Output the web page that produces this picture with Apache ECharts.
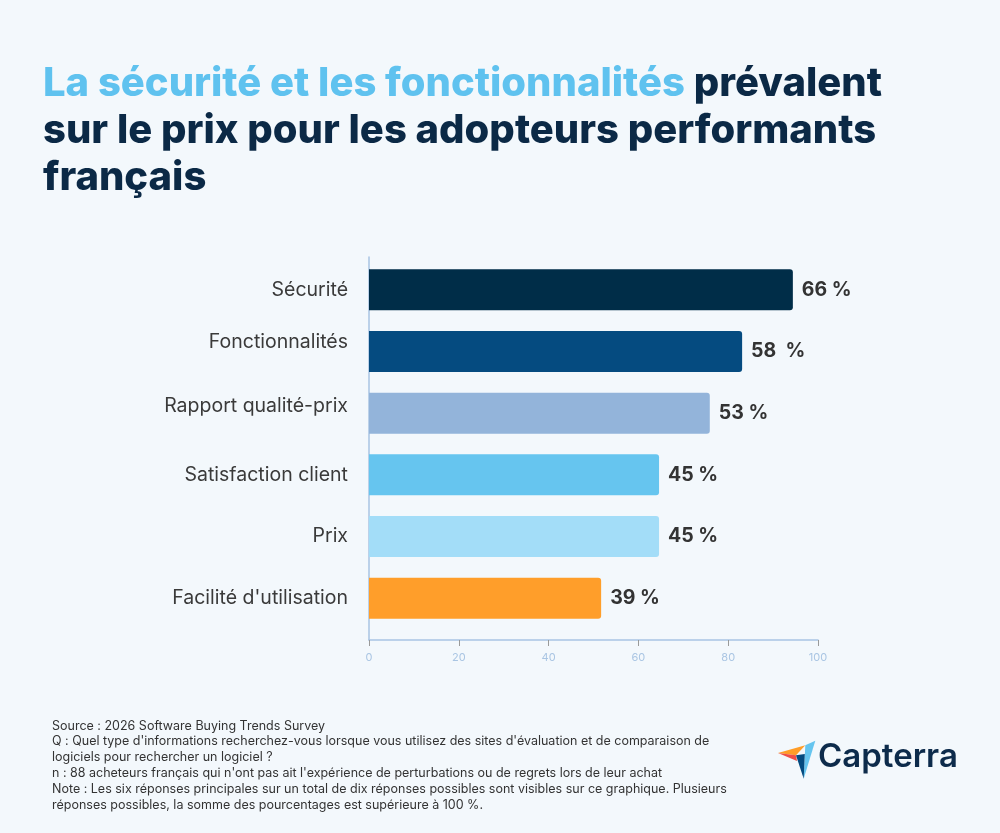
<!DOCTYPE html>
<html>
<head>
<meta charset="utf-8">
<style>
  html, body { margin: 0; padding: 0; background: #f3f8fc; }
  #chart { width: 1000px; height: 833px; }
</style>
</head>
<body>
<div id="chart"></div>
<script src="https://cdn.jsdelivr.net/npm/echarts@6/dist/echarts.min.js"></script>
<script>
  // categories, top to bottom
  var categories = ['Sécurité', 'Fonctionnalités', 'Rapport qualité-prix', 'Satisfaction client', 'Prix', 'Facilité d\'utilisation'];
  // bar lengths as read against the 0-100 axis
  var barValues = [94.4, 83.1, 75.9, 64.6, 64.6, 51.7];
  // printed labels
  var valueLabels = ['66 %', '58  %', '53 %', '45 %', '45 %', '39 %'];
  var barColors = ['#002d48', '#054b80', '#93b4da', '#66c5ef', '#a3ddf8', '#ff9e2a'];
  var xTicks = [0, 20, 40, 60, 80, 100];
  // small vertical nudges of the category labels, as in the source image
  var labelLift = ['mid', 'up9', 'up7', 'mid', 'mid', 'mid'];

  var chart = echarts.init(document.getElementById('chart'));

  var option = {
    backgroundColor: '#f3f8fc',
    textStyle: { fontFamily: 'Inter' },
    grid: [
      // bars
      { left: 369, right: 182, top: 259, bottom: 204 },
      // axis frame
      { left: 369, right: 182, top: 257, bottom: 193 }
    ],
    xAxis: [
      {
        gridIndex: 0,
        type: 'value',
        min: xTicks[0],
        max: xTicks[xTicks.length - 1],
        show: false
      },
      {
        gridIndex: 1,
        type: 'value',
        min: xTicks[0],
        max: xTicks[xTicks.length - 1],
        interval: 20,
        splitLine: { show: false },
        axisLine: { show: true, lineStyle: { color: '#a9c4e3', width: 1.5 } },
        axisTick: { show: true, length: 6, lineStyle: { color: '#9a9a9a' } },
        axisLabel: { color: '#a9c5e3', fontSize: 11, margin: 12 }
      }
    ],
    yAxis: [
      {
        gridIndex: 0,
        type: 'category',
        inverse: true,
        data: categories,
        axisLine: { show: false },
        axisTick: { show: false },
        axisLabel: {
          color: '#3a3a3a',
          fontSize: 19.5,
          margin: 21,
          formatter: function (v, i) { return '{' + labelLift[i] + '|' + v + '}'; },
          rich: {
            mid: { fontSize: 19.5, color: '#3a3a3a' },
            up9: { fontSize: 19.5, color: '#3a3a3a', padding: [0, 0, 18, 0] },
            up7: { fontSize: 19.5, color: '#3a3a3a', padding: [0, 0, 14, 0] }
          }
        }
      },
      {
        gridIndex: 1,
        type: 'category',
        data: categories,
        axisLine: { show: true, lineStyle: { color: '#a9c4e3', width: 1.5 } },
        axisTick: { show: false },
        axisLabel: { show: false }
      }
    ],
    series: [{
      type: 'bar',
      xAxisIndex: 0,
      yAxisIndex: 0,
      barWidth: 41,
      data: barValues.map(function (v, i) {
        return { value: v, itemStyle: { color: barColors[i] } };
      }),
      itemStyle: { borderRadius: [0, 3, 3, 0] },
      label: {
        show: true,
        position: 'right',
        distance: 9,
        fontSize: 19.5,
        fontWeight: 'bold',
        color: '#333333',
        formatter: function (p) { return valueLabels[p.dataIndex]; }
      }
    }],
    graphic: [
      {
        type: 'text',
        left: 43,
        top: 64,
        style: {
          text: '{a|La sécurité et les fonctionnalités}{b| prévalent}\n{b|sur le prix pour les adopteurs performants}\n{b|français}',
          rich: {
            a: { fontFamily: 'Inter', fontWeight: 800, fontSize: 40, lineHeight: 47, fill: '#5fc2ef' },
            b: { fontFamily: 'Inter', fontWeight: 800, fontSize: 40, lineHeight: 47, fill: '#0b2946' }
          }
        }
      },
      {
        type: 'text',
        left: 52,
        top: 718,
        style: {
          text: 'Source : 2026 Software Buying Trends Survey\n' +
                'Q : Quel type d\'informations recherchez-vous lorsque vous utilisez des sites d\'évaluation et de comparaison de\n' +
                'logiciels pour rechercher un logiciel ?\n' +
                'n : 88 acheteurs français qui n\'ont pas ait l\'expérience de perturbations ou de regrets lors de leur achat\n' +
                'Note : Les six réponses principales sur un total de dix réponses possibles sont visibles sur ce graphique. Plusieurs\n' +
                'réponses possibles, la somme des pourcentages est supérieure à 100 %.',
          fontFamily: 'Inter',
          fontSize: 12.5,
          lineHeight: 15.8,
          fill: '#333333'
        }
      },
      // Capterra logo
      { type: 'polygon', shape: { points: [[778, 753], [805.3, 745.3], [796, 755.3]] }, style: { fill: '#ff9d28' } },
      { type: 'polygon', shape: { points: [[778, 753], [796, 755.3], [797, 761]] }, style: { fill: '#ef4f48' } },
      { type: 'polygon', shape: { points: [[805.3, 745.3], [815.3, 740.7], [803.7, 778.7]] }, style: { fill: '#66c5ef' } },
      { type: 'polygon', shape: { points: [[796, 755.3], [804.8, 754], [803.7, 778.7]] }, style: { fill: '#044a7f' } },
      {
        type: 'text',
        left: 818,
        top: 741,
        style: { text: 'Capterra', fontFamily: 'Inter', fontWeight: 600, fontSize: 33, fill: '#0d2b4b' }
      }
    ]
  };

  chart.setOption(option);
</script>
</body>
</html>
